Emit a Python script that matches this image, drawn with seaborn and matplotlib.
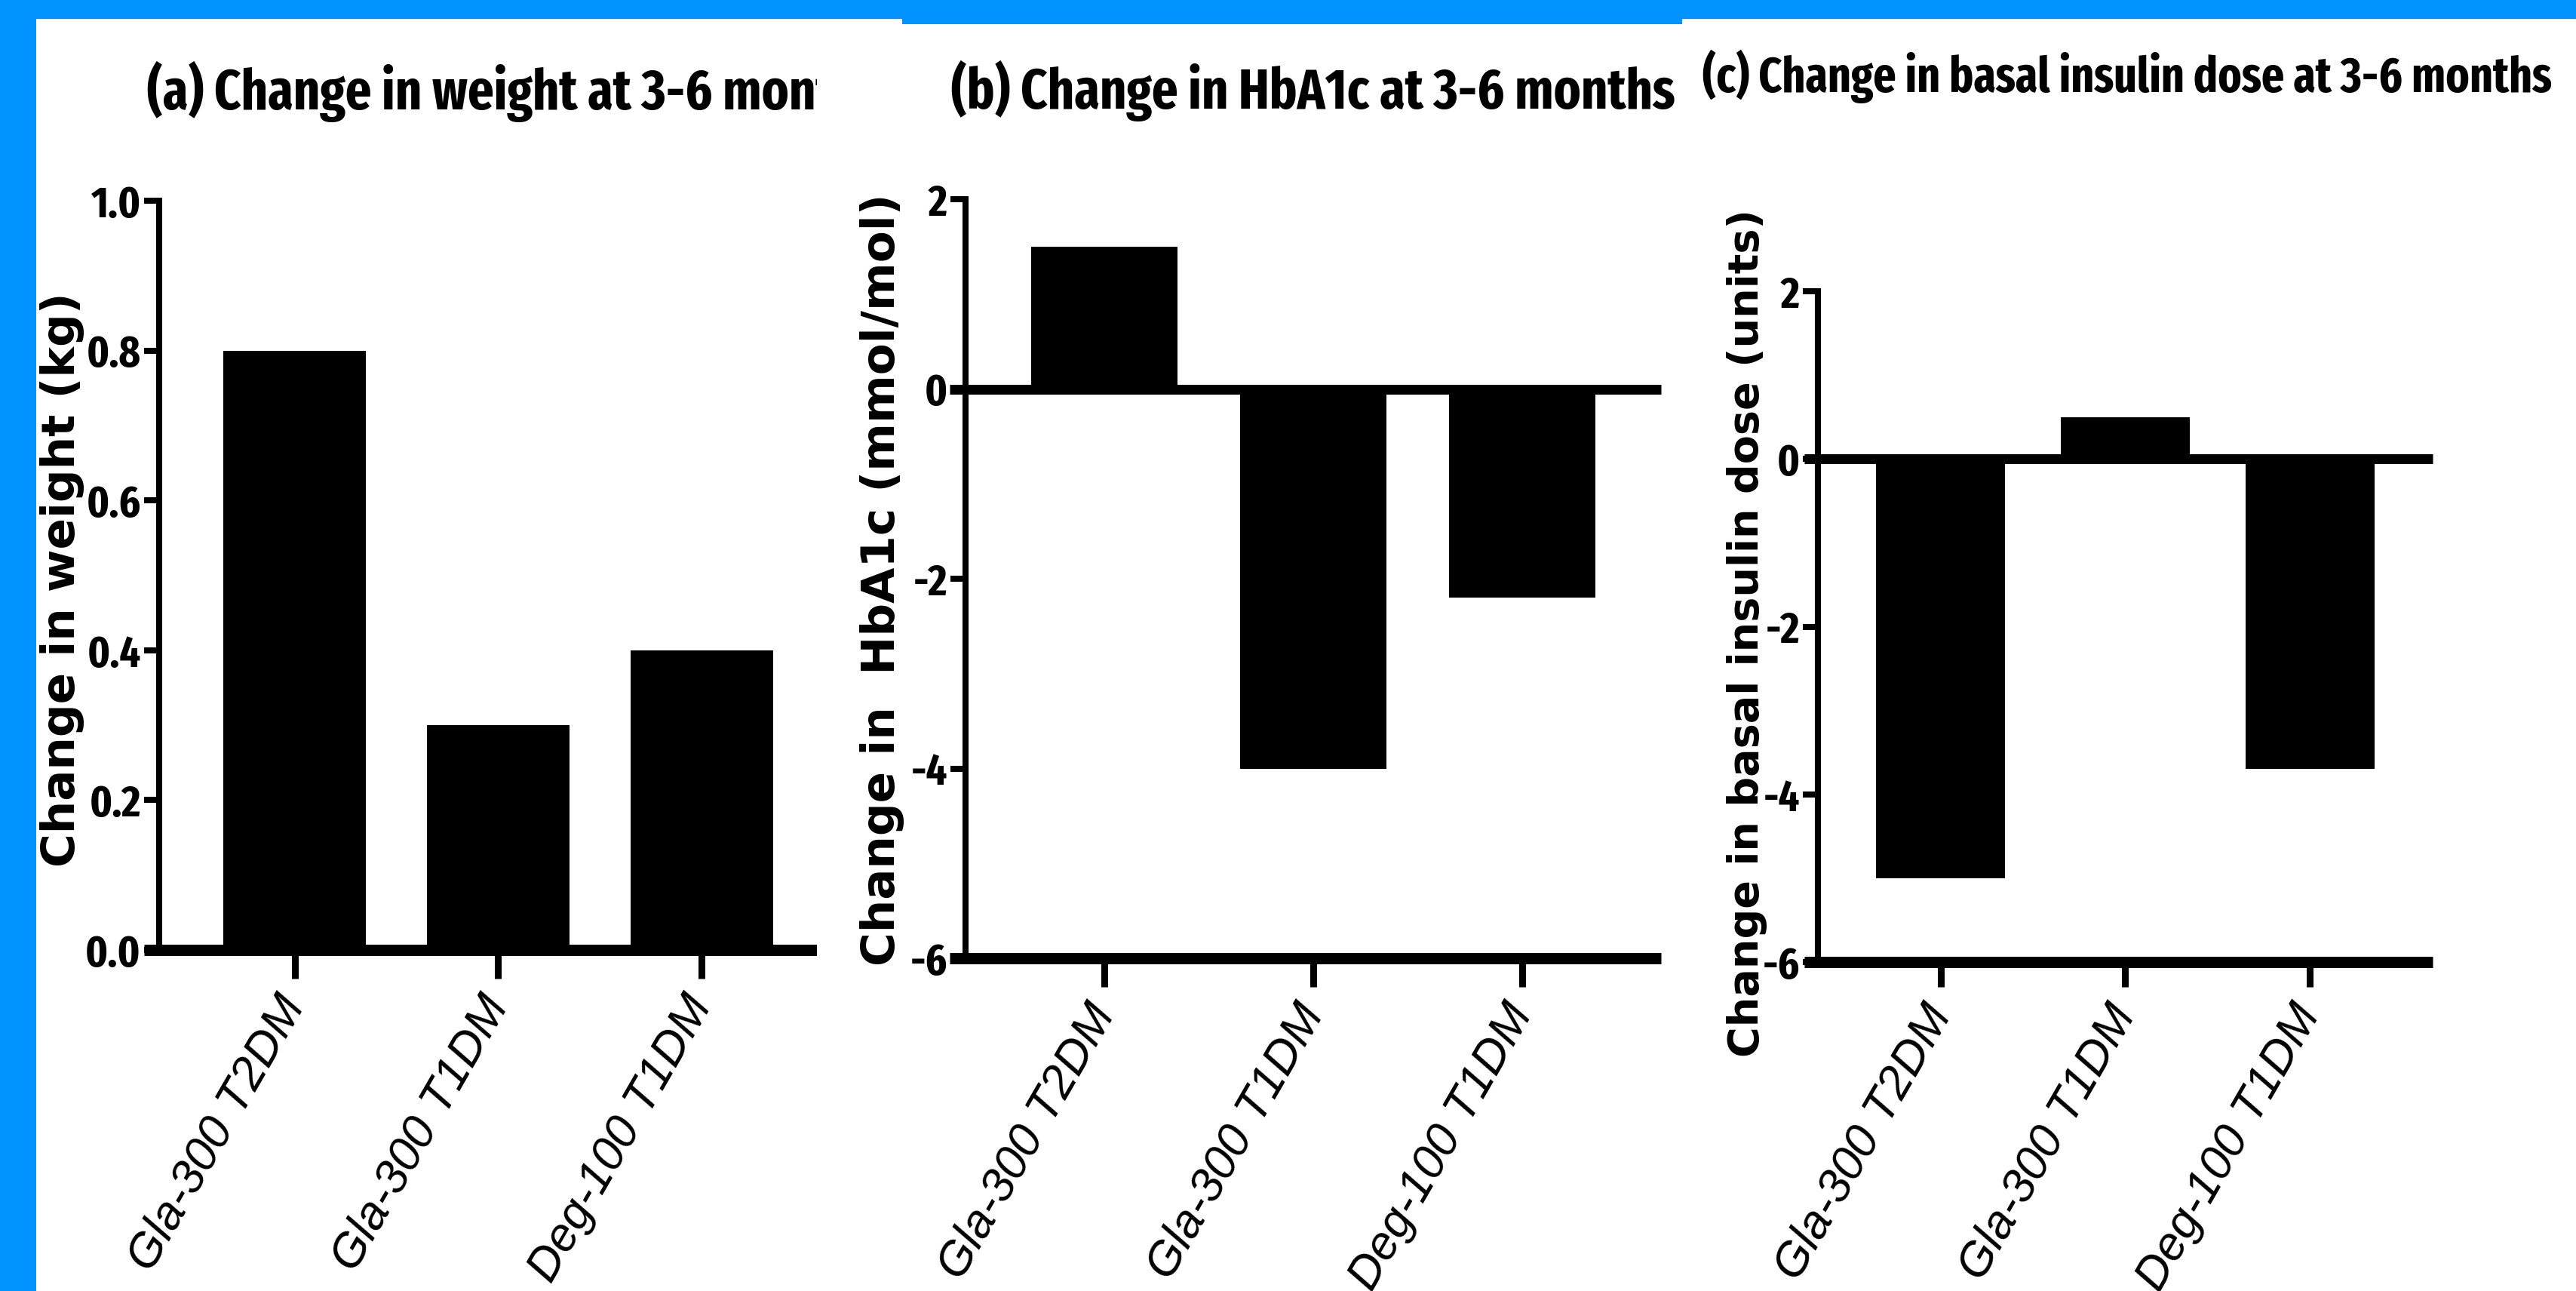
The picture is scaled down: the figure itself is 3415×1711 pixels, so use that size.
import numpy as np
import matplotlib
matplotlib.use("Agg")
import matplotlib.pyplot as plt
import matplotlib.font_manager as fm
from matplotlib.font_manager import FontProperties
from matplotlib.patches import Rectangle
import seaborn as sns

# data
categories = ["Gla-300 T2DM", "Gla-300 T1DM", "Deg-100 T1DM"]
weight_change = [0.8, 0.3, 0.4]
hba1c_change = [1.5, -4.0, -2.2]
insulin_change = [-5.0, 0.5, -3.7]

titles = ["(a) Change in weight at 3-6 months",
          "(b) Change in HbA1c at 3-6 months",
          "(c) Change in basal insulin dose at 3-6 months"]
ylabels = ["Change in weight (kg)",
           "Change in  HbA1c (mmol/mol)",
           "Change in basal insulin dose (units)"]
weight_ticks = [0.0, 0.2, 0.4, 0.6, 0.8, 1.0]
change_ticks = [-6, -4, -2, 0, 2]

sns.set_style("ticks")
plt.rcParams["font.family"] = ["Liberation Sans", "DejaVu Sans"]
plt.rcParams["axes.unicode_minus"] = False
for k in ["text.color", "axes.labelcolor", "xtick.color", "ytick.color", "axes.edgecolor"]:
    plt.rcParams[k] = "black"


def narrow_bold_font():
    """narrowest bold sans that is installed (the figure uses a condensed face)"""
    best, best_score = None, None
    for f in fm.fontManager.ttflist:
        w = f.weight if isinstance(f.weight, (int, float)) else fm.weight_dict.get(f.weight, 400)
        if w < 600 or w > 800 or f.style != "normal":
            continue
        tag = (f.name + " " + f.fname).replace("-", "").replace(" ", "").lower()
        if "extracondensed" in tag or "ultracondensed" in tag:
            st = 200
        elif "semicondensed" in tag:
            st = 400
        elif "condensed" in tag or "narrow" in tag:
            st = 300
        else:
            st = f.stretch if isinstance(f.stretch, (int, float)) else fm.stretch_dict.get(f.stretch, 500)
        if st >= 500:
            continue
        score = abs(st - 200) + abs(w - 700) / 10
        if "dejavu" in tag:
            score += 50
        if best_score is None or score < best_score:
            best, best_score = f.fname, score
    if best is None:
        return FontProperties(family="DejaVu Sans", weight="bold", stretch="condensed")
    return FontProperties(fname=best)


NARROW = narrow_bold_font()
WIDE = FontProperties(family="DejaVu Sans", weight="bold")

W, H = 3416, 1711
BLUE = "#0092FE"
fig = plt.figure(figsize=(W / 100, H / 100), dpi=100, facecolor="white")
renderer = fig.canvas.get_renderer()


def sized(fp, size):
    p = fp.copy()
    p.set_size(size)
    return p


def fit_size(fp, text, target, ref=50):
    w, _, _ = renderer.get_text_width_height_descent(text, sized(fp, ref), ismath=False)
    return ref * target / w


def px_axes(left, right, top, bottom):
    return fig.add_axes([left / W, 1 - bottom / H, (right - left) / W, (bottom - top) / H])


# blue frame of the composite image
fig.add_artist(Rectangle((0, 0), 48 / W, 1, transform=fig.transFigure,
                         color=BLUE, lw=0, zorder=5))
fig.add_artist(Rectangle((0, 1 - 25 / H), 1, 25 / H, transform=fig.transFigure,
                         color=BLUE, lw=0, zorder=5))
fig.add_artist(Rectangle((1196 / W, 1 - 32 / H), (2230 - 1196) / W, 8 / H,
                         transform=fig.transFigure, color=BLUE, lw=0, zorder=5))
# panel (a) was cropped on its right side
fig.add_artist(Rectangle((1083 / W, 0), (1196 - 1083) / W, 1 - 25 / H,
                         transform=fig.transFigure, color="white", lw=0, zorder=0.5))

ax_a = px_axes(211, 1110, 266, 1259)
ax_b = px_axes(1280, 2202, 264, 1270)
ax_c = px_axes(2410, 3225, 386, 1275)
ax_b.set_zorder(1)
ax_c.set_zorder(1)

panels = [
    (ax_a, weight_change, (0, 1.0), weight_ticks, "{:.1f}", 27),
    (ax_b, hba1c_change, (-6, 2), change_ticks, "{:d}", 27),
    (ax_c, insulin_change, (-6, 2), change_ticks, "{:d}", 24),
]

tick_fp = sized(NARROW, min(fit_size(NARROW, "0.8", 72), 44))

XLIM = (-0.665, 2.665)
for ax, vals, ylim, yt, fmt, xtl in panels:
    sns.barplot(x=categories, y=vals, color="black", saturation=1, width=0.7,
                linewidth=0, ax=ax)
    ax.set_facecolor("none")
    ax.set_xlim(*XLIM)
    ax.set_ylim(*ylim)
    ax.set_yticks(yt)
    ax.set_yticklabels([fmt.format(v) for v in yt], fontproperties=tick_fp)
    ax.set_xticks(range(len(categories)))
    ax.set_xticklabels(categories, rotation=60, ha="right", va="center",
                       rotation_mode="anchor", fontsize=45, fontstyle="italic")
    for s in ["top", "right"]:
        ax.spines[s].set_visible(False)
    ax.spines["left"].set_linewidth(5.8)
    ax.spines["bottom"].set_linewidth(10.8)
    ax.spines["bottom"].set_capstyle("butt")
    ax.spines["bottom"].set_bounds(XLIM[0] - 0.075, XLIM[1])
    ax.tick_params(axis="y", length=14.4, width=5.8, pad=3)
    ax.tick_params(axis="x", length=xtl, width=6.5, pad=20)
    ax.set_xlabel("")
    if ylim[0] < 0:
        ax.axhline(0, xmin=-0.075 / (XLIM[1] - XLIM[0]), xmax=1, color="black",
                   lw=9.4, clip_on=False, solid_capstyle="butt", zorder=2)

# y labels: centre x, centre y, length seen in the picture
ylab_pos = [(83, 768, 822), (1170, 768, 1124), (2316, 839, 1186)]
for ax, lab, (cx, cy, length) in zip([ax_a, ax_b, ax_c], ylabels, ylab_pos):
    size = min(fit_size(WIDE, lab, 0.95 * length), 44)
    ax.set_ylabel(lab, fontproperties=sized(WIDE, size), va="center")
    ax.yaxis.set_label_coords(cx / W, 1 - cy / H, transform=fig.transFigure)

# titles, fitted to the widths seen in the picture
size_b = fit_size(NARROW, titles[1], 960)
size_c = fit_size(NARROW, titles[2], 1127)
for ax, text, x, y, size in [(ax_a, titles[0], 195, 145, size_b),
                             (ax_b, titles[1], 1261, 144, size_b),
                             (ax_c, titles[2], 2257, 122, size_c)]:
    ax.text(x / W, 1 - y / H, text, transform=fig.transFigure, ha="left",
            va="baseline", fontproperties=sized(NARROW, size))

fig.savefig("out.png", dpi=100, facecolor=fig.get_facecolor())
